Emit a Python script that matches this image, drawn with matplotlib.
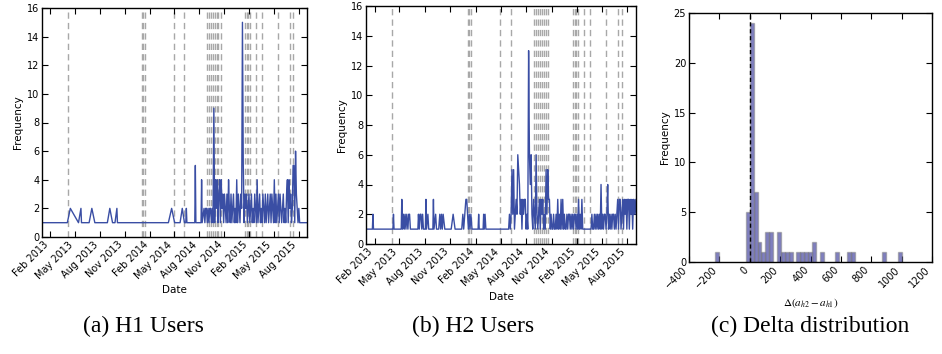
import pandas as pd
import matplotlib
matplotlib.use('Agg')
import matplotlib.pyplot as plt
import matplotlib.dates as mdates

# 事件日期（灰色虚线）
event_dates = ['2013-04-06', '2014-01-02', '2014-01-08', '2014-01-16', '2014-04-30',
               '2014-06-08', '2014-08-30', '2014-09-06', '2014-09-14', '2014-09-21',
               '2014-09-28', '2014-10-04', '2014-10-11', '2014-10-19', '2015-01-17',
               '2015-01-23', '2015-01-29', '2015-02-04', '2015-02-26', '2015-03-18',
               '2015-05-17', '2015-06-29', '2015-07-11']

# H1 用户：前段稀疏
a_sparse_dates = ['2013-01-01', '2013-04-04', '2013-04-15', '2013-05-15', '2013-05-24',
                  '2013-05-26', '2013-06-23', '2013-07-03', '2013-07-14', '2013-08-29',
                  '2013-09-07', '2013-09-17', '2013-09-26', '2013-10-03', '2013-10-05',
                  '2014-04-10', '2014-04-22', '2014-05-03', '2014-05-23', '2014-05-31',
                  '2014-06-08', '2014-06-13', '2014-06-15', '2014-06-17', '2014-07-16',
                  '2014-07-18', '2014-07-20', '2014-08-08', '2014-08-10', '2014-08-12']
a_sparse_vals = [1, 1, 2, 1, 2, 1, 1, 2, 1, 1, 2, 1, 1, 2, 1,
                 1, 2, 1, 1, 2, 1, 1, 2, 1, 1, 5, 1, 1, 4, 1]
# H1 用户：后段密集（每 3 天一个点）
a_dense_start = '2014-08-19'
a_dense_vals = [2, 1, 2, 2, 1, 2, 1, 2, 2, 1, 2, 1,
                9,
                1, 4, 2, 4, 1, 3, 4, 1, 4, 2, 3,
                1, 3, 2, 1, 3, 1,
                4,
                2, 1, 3, 1, 2, 3, 1, 2, 1,
                4,
                1, 3, 2, 1, 3, 2,
                15, 5,
                1, 3, 2, 3, 1, 2, 3, 1, 2, 3, 1, 2, 1, 3, 2, 1,
                4,
                1, 2, 3, 1, 2, 1, 3, 2, 1, 3, 1, 2, 3, 1, 2, 3, 1, 3, 2, 1,
                4,
                1, 3, 1, 2, 3, 1, 3, 2, 1, 2, 3, 1, 2, 1, 3,
                4, 1, 4, 2, 3, 1, 2,
                5, 5, 1, 6, 3, 2, 1, 2, 1, 1]
a_end_date = '2015-09-01'
a_end_val = 1

# H2 用户：前段稀疏
b_sparse_dates = ['2013-01-01', '2013-01-24', '2013-01-26', '2013-01-28',
                  '2013-04-08', '2013-04-10', '2013-04-12',
                  '2013-05-08', '2013-05-10', '2013-05-13', '2013-05-16', '2013-05-19',
                  '2013-05-22', '2013-05-25', '2013-05-28', '2013-06-01', '2013-06-04',
                  '2013-06-07', '2013-06-10',
                  '2013-07-07', '2013-07-09', '2013-07-12', '2013-07-15', '2013-07-18',
                  '2013-07-21', '2013-07-24', '2013-07-27',
                  '2013-08-03', '2013-08-05', '2013-08-07', '2013-08-12', '2013-08-15',
                  '2013-08-30', '2013-09-01', '2013-09-03', '2013-09-09', '2013-09-12',
                  '2013-09-20', '2013-09-24', '2013-09-27', '2013-09-30', '2013-10-03',
                  '2013-10-06', '2013-10-12',
                  '2013-11-04', '2013-11-11', '2013-11-18',
                  '2013-12-12', '2013-12-16', '2013-12-19', '2013-12-23', '2013-12-27',
                  '2013-12-30', '2014-01-02', '2014-01-05', '2014-01-08', '2014-01-11',
                  '2014-01-14', '2014-01-18',
                  '2014-02-09', '2014-02-11', '2014-02-13',
                  '2014-02-27', '2014-03-01', '2014-03-03', '2014-03-06', '2014-03-09',
                  '2014-05-27']
b_sparse_vals = [1, 1, 2, 1,
                 1, 2, 1,
                 1, 3, 1, 2, 1, 2, 1, 2, 1, 2, 2, 1,
                 1, 2, 1, 2, 2, 1, 2, 1,
                 1, 3, 1, 2, 1,
                 1, 3, 1, 2, 1,
                 1, 2, 1, 2, 1, 2, 1,
                 1, 2, 1,
                 1, 2, 1, 2, 3, 3, 2, 1, 2, 1, 2, 1,
                 1, 2, 1,
                 1, 2, 1, 2, 1,
                 1]
# H2 用户：后段密集（每 3 天一个点）
b_dense_start = '2014-05-30'
b_dense_vals = [1, 2, 1, 2, 5, 2, 5, 1, 2, 3, 2, 6, 5, 4, 2, 3, 1, 3, 2, 3,
                3, 1, 2, 1, 13, 6, 4, 6, 2, 1, 3, 2, 1, 6, 2, 1, 2, 3, 1, 3,
                2, 3, 1, 2, 1, 5, 2, 5, 3, 3, 1, 2, 1, 1, 2, 1, 1, 2, 1, 3,
                1, 2, 1, 3, 1, 3, 1, 2, 1, 1, 2, 1, 2, 2, 1, 2, 1, 2, 1, 2,
                2, 1, 2, 1, 3, 1, 2, 1, 3, 1, 1, 1, 1, 1, 1, 1, 1, 1, 1, 1,
                2, 1, 1, 2, 1, 2, 1, 2, 1, 2, 1, 4, 1, 2, 1, 2, 2, 1, 2, 4,
                1, 2, 1, 2, 1, 2, 2, 1, 2, 1, 2, 3, 1, 3, 3, 1, 2, 3, 1, 3,
                2, 3, 1, 3, 3, 1, 3, 2, 3, 1, 3, 2, 3, 2]

# Delta 直方图：各柱左边界与计数
delta_bin_width = 25.65
delta_bin_left = [-230.9, -25.65, 0.0, 25.65, 51.3, 77.0, 102.6, 128.3, 179.6, 205.2,
                  230.9, 256.5, 307.8, 333.5, 359.1, 384.8, 410.4, 461.7, 564.3, 641.3,
                  666.9, 872.1, 974.7]
delta_counts = [1, 5, 24, 7, 2, 1, 3, 3, 3, 1,
                1, 1, 1, 1, 1, 1, 2, 1, 1, 1,
                1, 1, 1]

line_color = '#3a4ea4'
plt.rcParams['mathtext.fontset'] = 'stix'


def style_ax(ax):
    ax.tick_params(direction='in', top=True, right=True, labelsize=7,
                   length=4, width=0.8, pad=2)
    for s in ax.spines.values():
        s.set_linewidth(1.0)


def plot_users(ax, sparse_dates, sparse_vals, dense_start, dense_vals, extra=None):
    dates = list(pd.to_datetime(sparse_dates))
    vals = list(sparse_vals)
    dates += list(pd.date_range(dense_start, periods=len(dense_vals), freq='3D'))
    vals += list(dense_vals)
    if extra is not None:
        dates.append(pd.Timestamp(extra[0]))
        vals.append(extra[1])
    for d in event_dates:
        ax.axvline(pd.Timestamp(d), color='#a8a8a8', ls=(0, (4.5, 3)), lw=1, zorder=1)
    ax.plot(dates, vals, color=line_color, lw=1.0, zorder=2)
    ax.set_xlim(dates[0], dates[-1])
    ax.set_ylim(0, 16)
    ax.set_yticks(range(0, 17, 2))
    ax.xaxis.set_major_locator(mdates.MonthLocator(bymonth=[2, 5, 8, 11]))
    ax.xaxis.set_major_formatter(mdates.DateFormatter('%b %Y'))
    for lab in ax.get_xticklabels():
        lab.set_rotation(45)
        lab.set_ha('right')
    ax.set_xlabel('Date', fontsize=7.5, labelpad=3)
    ax.set_ylabel('Frequency', fontsize=7.5, labelpad=3)
    style_ax(ax)


fig = plt.figure(figsize=(9.42, 3.54), dpi=100)
W, H = 942, 354
ax1 = fig.add_axes([42 / W, 1 - 237 / H, 265 / W, 229 / H])
ax2 = fig.add_axes([366 / W, 1 - 244 / H, 270 / W, 238 / H])
ax3 = fig.add_axes([689 / W, 1 - 262 / H, 243 / W, 249 / H])

plot_users(ax1, a_sparse_dates, a_sparse_vals, a_dense_start, a_dense_vals,
           (a_end_date, a_end_val))
plot_users(ax2, b_sparse_dates, b_sparse_vals, b_dense_start, b_dense_vals)

# 直方图
ax3.bar(delta_bin_left, delta_counts, width=delta_bin_width, align='edge',
        color='navy', alpha=0.5, edgecolor='gray', linewidth=1.0, zorder=2)
ax3.axvline(0, color='k', ls=(0, (3, 2)), lw=1, zorder=3)
ax3.set_xlim(-400, 1200)
ax3.set_ylim(0, 25)
ax3.set_xticks(range(-400, 1201, 200))
ax3.set_yticks(range(0, 26, 5))
for lab in ax3.get_xticklabels():
    lab.set_rotation(45)
    lab.set_ha('right')
ax3.set_xlabel(r'$\Delta(a_{h2}-a_{h1})$', fontsize=8, labelpad=4)
ax3.set_ylabel('Frequency', fontsize=7.5, labelpad=3)
style_ax(ax3)

# 子图标题
cap_kw = dict(ha='center', va='center', fontsize=17, family='Liberation Serif')
fig.text(143 / W, 1 - 326 / H, '(a) H1 Users', **cap_kw)
fig.text(473 / W, 1 - 326 / H, '(b) H2 Users', **cap_kw)
fig.text(810 / W, 1 - 326 / H, '(c) Delta distribution', **cap_kw)

fig.savefig('out.png', dpi=100)
